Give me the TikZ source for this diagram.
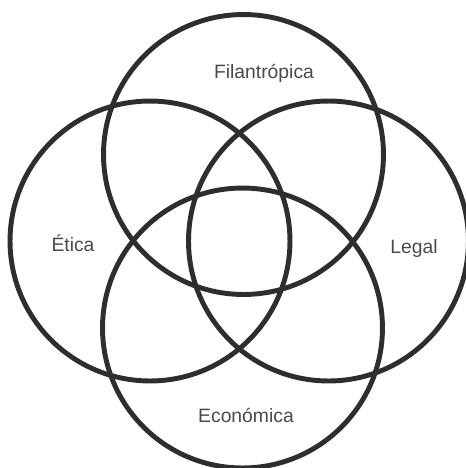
\documentclass[tikz,border=0pt]{standalone}
\usepackage{fontspec}
\setmainfont{Liberation Sans}
\definecolor{ringgray}{HTML}{2E2E2E}
\definecolor{textgray}{HTML}{4A4A4A}
\begin{document}
\begin{tikzpicture}[x=0.02cm, y=-0.02cm,
	ring/.style={shape=circle, draw=ringgray, line width=2.8pt, minimum size=5.6cm, inner sep=0pt},
	tag/.style={anchor=center, text=textgray, font=\fontsize{11}{13}\selectfont, inner sep=0pt}]
	\useasboundingbox (0, 0) rectangle (466, 468);
	\node[ring] (fil) at (243.5, 154.5){};
	\node[ring] (eti) at (150, 241){};
	\node[ring] (leg) at (328.5, 241){};
	\node[ring] (eco) at (242.5, 328){};
	\node[tag] (tfil) at (264, 73){Filantrópica};
	\node[tag] (teti) at (73, 243){Ética};
	\node[tag] (tleg) at (414, 248){Legal};
	\node[tag] (teco) at (246, 415){Económica};
\end{tikzpicture}
\end{document}
